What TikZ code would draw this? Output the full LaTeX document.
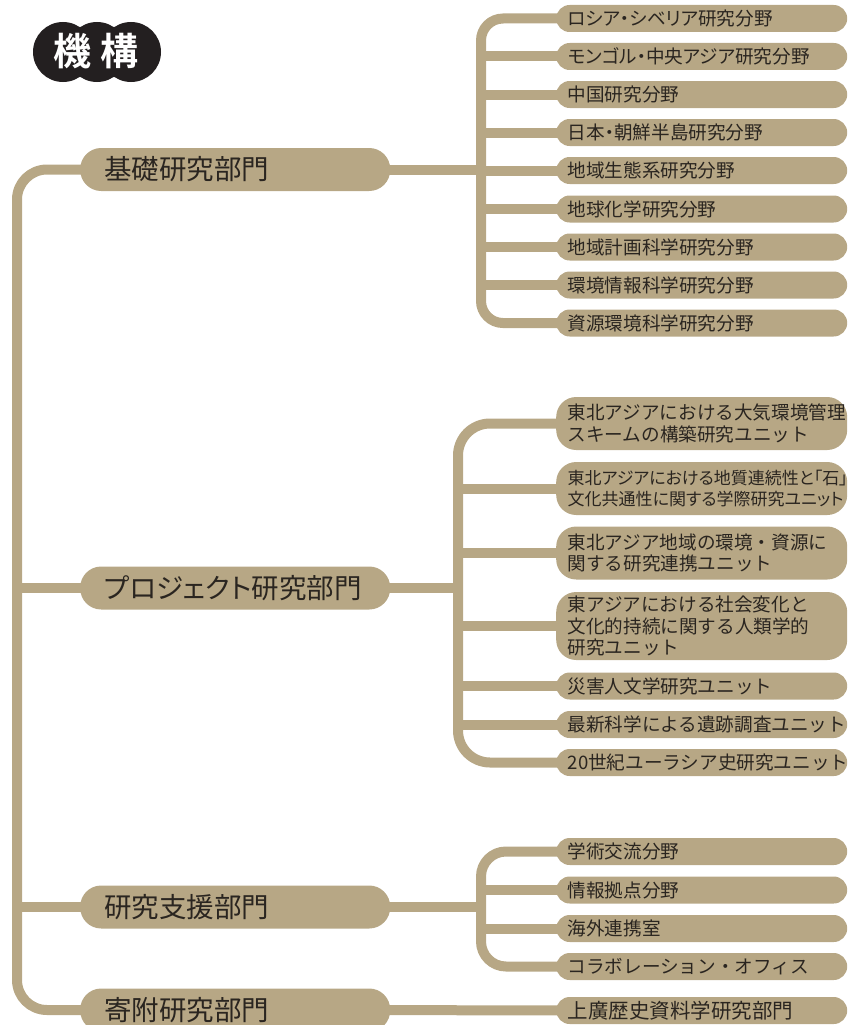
\documentclass[tikz,border=0pt]{standalone}
\usepackage{fontspec}
\newfontfamily\jp{Noto Sans CJK JP}
\newfontfamily\jpp[RawFeature=+palt]{Noto Sans CJK JP}
\newfontfamily\jpb{Noto Sans CJK JP Bold}
\definecolor{tan}{HTML}{B7A785}
\definecolor{ink}{HTML}{2A2520}
\definecolor{blob}{HTML}{231F20}
\pgfdeclarelayer{bg}
\pgfsetlayers{bg,main}
\tikzset{
  conn/.style={draw=tan, line width=10pt},
  mainpill/.style={rectangle, rounded corners=21pt, fill=tan, anchor=west,
    minimum height=43pt, text width=262pt, inner xsep=24pt, inner ysep=0pt,
    align=left, text=ink, font=\jp\fontsize{27.5}{30}\selectfont},
  subpill/.style={rectangle, rounded corners=13.5pt, fill=tan, anchor=west,
    minimum height=27pt, text width=268pt, inner xsep=11.5pt, inner ysep=0pt,
    align=left, text=ink, font=\jp\fontsize{18.6}{21.5}\selectfont},
  psubpill/.style={subpill, font=\jpp\fontsize{18.6}{21.5}\selectfont},
  multipill/.style={subpill, rounded corners=20pt},
}
\begin{document}
\begin{tikzpicture}[x=1pt,y=-1pt]
\useasboundingbox (0,0) rectangle (858,1025);
% title
\fill[blob] (63,52) circle (30) (97,52) circle (30) (131,52) circle (30);
\node[text=white, font=\jpb\fontsize{38}{40}\selectfont] (title) at (96,51) {機\hspace{9pt}構};
% main pills
\node[mainpill] (A) at (80,169.5) {基礎研究部門};
\node[mainpill, font=\jpp\fontsize{27.5}{30}\selectfont] (B) at (80,588) {プロジェクト研究部門};
\node[mainpill] (C) at (80,907) {研究支援部門};
\node[mainpill] (D) at (80,1010) {寄附研究部門};
% group 1
\node[psubpill] (a1) at (556,18.5) {ロシア・シベリア研究分野};
\node[psubpill] (a2) at (556,56.5) {モンゴル・中央アジア研究分野};
\node[subpill] (a3) at (556,94.5) {中国研究分野};
\node[psubpill] (a4) at (556,132.5) {日本・朝鮮半島研究分野};
\node[subpill] (a5) at (556,170.5) {地域生態系研究分野};
\node[subpill] (a6) at (556,209) {地球化学研究分野};
\node[subpill] (a7) at (556,247) {地域計画科学研究分野};
\node[subpill] (a8) at (556,285) {環境情報科学研究分野};
\node[subpill] (a9) at (556,323) {資源環境科学研究分野};
% group 2
\node[multipill, minimum height=53pt] (b1) at (556,423.5) {\mbox{東北アジアにおける大気環境管理}\\\mbox{スキームの構築研究ユニット}};
\node[multipill, minimum height=53pt, font=\jpp\fontsize{17}{21.5}\selectfont] (b2) at (556,488.5) {\mbox{東北アジアにおける地質連続性と「石」}\\\mbox{文化共通性に関する学際研究ユニット}};
\node[multipill, minimum height=53pt] (b3) at (556,553) {\mbox{東北アジア地域の環境・資源に}\\\mbox{関する研究連携ユニット}};
\node[multipill, minimum height=68pt] (b4) at (556,626) {\mbox{東アジアにおける社会変化と}\\\mbox{文化的持続に関する人類学的}\\\mbox{研究ユニット}};
\node[subpill] (b5) at (556,686) {災害人文学研究ユニット};
\node[subpill] (b6) at (556,724.5) {最新科学による遺跡調査ユニット};
\node[subpill] (b7) at (556,762.5) {20世紀ユーラシア史研究ユニット};
% group 3
\node[subpill] (c1) at (556,851.5) {学術交流分野};
\node[subpill] (c2) at (556,890) {情報拠点分野};
\node[subpill] (c3) at (556,928.5) {海外連携室};
\node[subpill] (c4) at (556,966.5) {コラボレーション・オフィス};
% group 4
\node[subpill, font=\jp\fontsize{20.5}{22}\selectfont] (d1) at (556,1010.5) {上廣歴史資料学研究部門};
% guide coordinates
\coordinate (tx) at (17,0);
\coordinate (g1) at (481,0);
\coordinate (g2) at (458,0);
\coordinate (g3) at (481,0);
\begin{pgfonlayer}{bg}
  % trunk
  \draw[conn, rounded corners=30pt] (A.center) -- (A.center -| tx) -- (D.center -| tx) -- (D.center);
  \draw[conn] (B.center) -- (B.center -| tx);
  \draw[conn] (C.center) -- (C.center -| tx);
  % group 1
  \draw[conn, rounded corners=22pt] (a1.center) -- (a1.center -| g1) -- (a9.center -| g1) -- (a9.center);
  \foreach \n in {a2,a3,a4,a5,a6,a7,a8} \draw[conn] (\n.center) -- (\n.center -| g1);
  \draw[conn] (A.center) -- (A.center -| g1);
  % group 2
  \draw[conn, rounded corners=32pt] (b1.center) -- (b1.center -| g2) -- (b7.center -| g2) -- (b7.center);
  \foreach \n in {b2,b3,b4,b5,b6} \draw[conn] (\n.center) -- (\n.center -| g2);
  \draw[conn] (B.center) -- (B.center -| g2);
  % group 3
  \draw[conn, rounded corners=25pt] (c1.center) -- (c1.center -| g3) -- (c4.center -| g3) -- (c4.center);
  \foreach \n in {c2,c3} \draw[conn] (\n.center) -- (\n.center -| g3);
  \draw[conn] (C.center) -- (C.center -| g3);
  % group 4
  \draw[conn] (D.center) -- (d1.center);
\end{pgfonlayer}
\end{tikzpicture}
\end{document}
